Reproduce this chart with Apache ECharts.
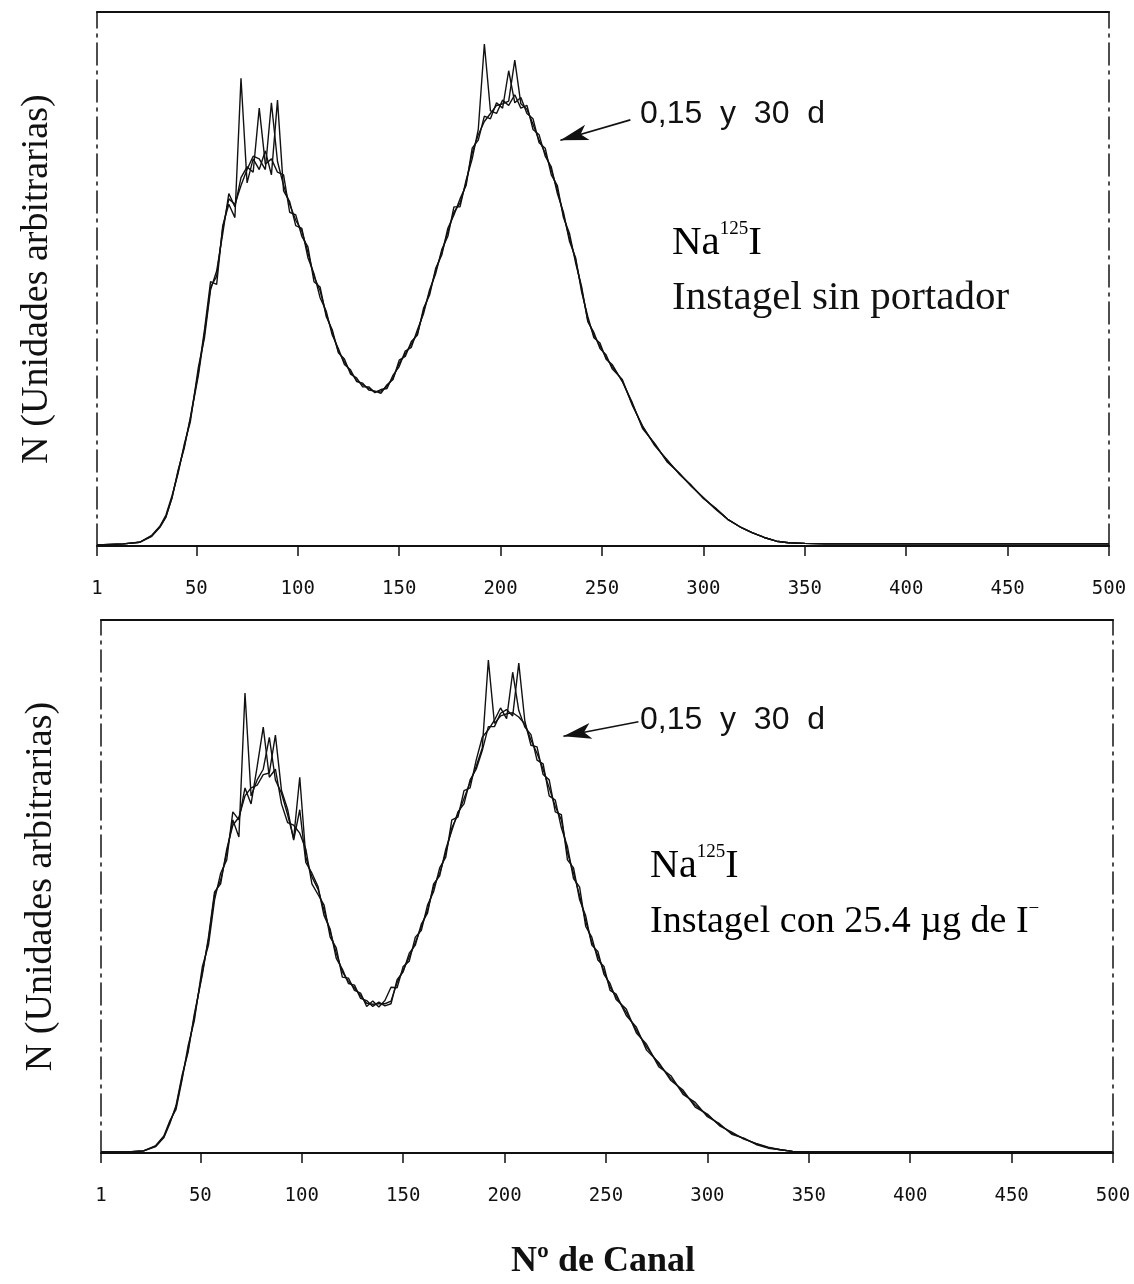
<!DOCTYPE html>
<html><head><meta charset="utf-8">
<script src="https://cdn.jsdelivr.net/npm/echarts@6/dist/echarts.min.js"></script>
<style>html,body{margin:0;padding:0;background:#fff}#c{width:1134px;height:1284px}</style>
</head><body><div id="c"></div>
<script>
// Channel grid (Nº de Canal)
const channels = [
  1, 14, 22, 28, 32, 35, 38, 41, 44, 47,
  51, 54, 57, 60, 63, 66, 69, 72, 75, 78,
  81, 84, 87, 90, 93, 96, 99, 102, 105, 108,
  111, 114, 117, 120, 123, 126, 129, 132, 135, 138,
  141, 144, 147, 150, 153, 156, 159, 162, 165, 168,
  171, 174, 177, 180, 183, 186, 189, 192, 195, 198,
  201, 204, 207, 210, 213, 216, 219, 222, 225, 228,
  231, 234, 237, 240, 243, 246, 249, 252, 255, 260,
  265, 270, 276, 282, 288, 294, 300, 306, 312, 318,
  324, 330, 336, 342, 350, 360, 380, 420, 460, 500
];
const tickValues = [1, 50, 100, 150, 200, 250, 300, 350, 400, 450, 500];

// Upper panel: Na125I, Instagel sin portador (0, 15 and 30 days)
const topDay0 = [
  0.2, 0.4, 0.7, 1.9, 3.6, 5.5, 9.0, 14.2, 18.3, 24.0,
  32.5, 40.5, 49.5, 49.0, 60.0, 64.0, 61.5, 87.6, 68.0, 72.5,
  70.5, 74.0, 69.5, 83.5, 66.5, 64.5, 60.0, 59.5, 54.0, 51.0,
  46.5, 44.0, 39.5, 37.0, 34.0, 33.0, 30.8, 30.5, 29.2, 29.0,
  28.6, 30.2, 31.2, 34.8, 35.5, 38.3, 39.5, 44.5, 47.0, 52.0,
  54.5, 59.5, 62.0, 65.0, 67.5, 74.5, 76.0, 80.5, 80.0, 83.0,
  82.0, 89.0, 83.0, 84.0, 81.0, 80.0, 75.5, 74.5, 69.5, 67.5,
  61.5, 58.5, 53.0, 48.5, 42.0, 40.0, 37.0, 35.8, 33.2, 31.2,
  26.3, 22.5, 18.8, 16.2, 13.5, 11.4, 8.9, 7.1, 5.0, 3.6,
  2.5, 1.6, 0.9, 0.6, 0.5, 0.4, 0.4, 0.4, 0.4, 0.4
];
const topDay15 = [
  0.2, 0.4, 0.7, 2.0, 3.7, 5.8, 9.4, 13.6, 19.0, 23.2,
  33.5, 39.0, 48.0, 51.5, 58.5, 66.0, 63.5, 69.0, 71.0, 70.0,
  82.0, 71.5, 72.5, 70.0, 69.5, 62.5, 62.0, 58.0, 56.0, 49.5,
  48.5, 43.0, 40.5, 36.2, 35.0, 32.2, 31.5, 29.8, 29.8, 28.7,
  29.3, 29.5, 32.0, 33.6, 36.5, 37.2, 40.5, 43.5, 48.0, 51.0,
  55.5, 58.0, 63.5, 63.5, 68.5, 72.5, 78.0, 94.0, 81.5, 81.0,
  83.5, 82.5, 84.5, 82.0, 82.5, 78.0, 77.0, 73.0, 71.0, 66.0,
  62.5, 57.0, 54.0, 47.5, 43.0, 39.0, 38.0, 35.0, 34.0, 30.8,
  26.8, 22.0, 19.2, 15.8, 13.7, 11.2, 9.1, 6.9, 5.0, 3.6,
  2.5, 1.6, 0.9, 0.6, 0.5, 0.4, 0.4, 0.4, 0.4, 0.4
];
const topDay30 = [
  0.2, 0.4, 0.7, 1.8, 3.5, 5.4, 9.1, 14.0, 18.6, 23.8,
  32.0, 39.8, 48.5, 50.5, 59.5, 65.0, 64.0, 67.5, 70.5, 73.0,
  72.5, 70.5, 83.0, 72.0, 67.5, 64.0, 61.0, 59.0, 55.0, 50.5,
  47.8, 43.5, 40.0, 36.5, 34.5, 32.6, 31.0, 30.2, 29.5, 28.9,
  29.0, 29.9, 31.5, 34.2, 36.0, 37.8, 39.8, 44.0, 47.5, 51.5,
  55.0, 58.8, 62.5, 64.2, 68.0, 73.6, 77.0, 79.5, 81.0, 82.5,
  82.8, 83.3, 91.0, 82.8, 81.8, 79.0, 76.0, 73.6, 70.4, 66.7,
  62.0, 57.6, 53.6, 48.0, 42.3, 39.5, 37.5, 35.3, 33.6, 31.0,
  26.5, 22.3, 19.0, 16.0, 13.6, 11.3, 9.0, 7.0, 5.0, 3.6,
  2.5, 1.6, 0.9, 0.6, 0.5, 0.4, 0.4, 0.4, 0.4, 0.4
];

// Lower panel: Na125I, Instagel con 25.4 µg de I- (0, 15 and 30 days)
const botDay0 = [
  0.2, 0.2, 0.4, 1.3, 3.0, 5.8, 8.6, 14.2, 19.5, 25.5,
  34.0, 40.0, 48.5, 51.2, 56.3, 62.5, 59.3, 86.3, 67.0, 70.0,
  72.0, 78.0, 70.0, 67.5, 63.5, 59.0, 70.5, 55.5, 51.8, 49.5,
  45.5, 41.5, 37.5, 34.0, 32.2, 31.0, 29.5, 28.1, 27.9, 28.0,
  28.0, 28.5, 32.0, 34.3, 36.8, 39.5, 42.5, 45.6, 49.9, 52.5,
  56.3, 61.0, 63.5, 66.5, 69.5, 72.5, 76.0, 92.5, 80.6, 82.0,
  82.4, 82.6, 81.8, 80.5, 77.5, 75.0, 72.0, 68.5, 65.0, 62.5,
  56.3, 52.5, 48.3, 43.5, 39.6, 37.0, 34.2, 31.1, 29.3, 26.4,
  23.0, 19.9, 16.7, 14.0, 11.4, 9.0, 7.1, 5.3, 3.7, 2.7,
  1.7, 1.0, 0.6, 0.3, 0.2, 0.2, 0.2, 0.2, 0.2, 0.2
];
const botDay15 = [
  0.2, 0.2, 0.4, 1.4, 3.2, 6.1, 8.2, 13.8, 20.2, 24.8,
  35.0, 39.0, 47.5, 52.5, 55.0, 64.0, 62.5, 68.5, 65.5, 72.5,
  79.9, 70.5, 72.0, 65.5, 62.0, 61.5, 60.0, 57.0, 50.5, 48.5,
  46.5, 40.5, 38.5, 33.0, 32.8, 30.5, 30.0, 27.5, 28.5, 27.4,
  28.6, 31.1, 31.0, 35.0, 36.0, 40.5, 41.8, 46.5, 49.0, 53.5,
  55.5, 62.5, 63.0, 68.0, 68.5, 73.7, 78.0, 79.4, 81.2, 83.5,
  81.5, 90.2, 83.0, 79.9, 78.5, 73.7, 73.0, 67.0, 66.2, 61.0,
  57.5, 51.5, 49.9, 42.5, 40.5, 36.2, 35.0, 30.5, 29.8, 25.8,
  23.6, 19.3, 17.0, 13.6, 11.8, 8.6, 7.3, 5.1, 3.9, 2.6,
  1.8, 1.1, 0.6, 0.3, 0.2, 0.2, 0.2, 0.2, 0.2, 0.2
];
const botDay30 = [
  0.2, 0.2, 0.4, 1.2, 2.9, 5.6, 8.9, 14.6, 19.0, 26.0,
  33.5, 40.5, 49.0, 50.5, 57.0, 61.5, 63.0, 67.0, 68.5, 69.0,
  71.0, 71.3, 78.4, 68.0, 64.5, 58.7, 64.4, 54.5, 52.5, 50.0,
  44.5, 42.0, 36.5, 34.5, 31.8, 31.5, 29.0, 28.6, 27.5, 28.3,
  27.6, 28.0, 32.5, 34.0, 37.5, 39.0, 43.0, 45.0, 50.5, 52.0,
  57.0, 60.5, 64.0, 65.5, 70.0, 72.0, 75.5, 80.0, 80.0, 82.5,
  83.2, 82.0, 91.9, 81.0, 76.5, 76.2, 71.0, 70.0, 64.0, 63.5,
  55.0, 53.5, 47.5, 44.5, 39.0, 37.8, 33.5, 31.8, 28.8, 27.0,
  22.5, 20.4, 16.2, 14.5, 11.0, 9.5, 6.8, 5.5, 3.5, 2.8,
  1.6, 0.9, 0.6, 0.3, 0.2, 0.2, 0.2, 0.2, 0.2, 0.2
];

// Arrow annotations [channel, N]
const topArrow = [[264, 79.8], [229.5, 76.0]];
const botArrow = [[266, 80.9], [229, 78.2]];

const INK = '#111';
const SERIF = '"Liberation Serif", "DejaVu Serif", serif';
const MONO = '"DejaVu Sans Mono", monospace';
const SANS = '"Liberation Sans", Arial, sans-serif';

function pairs(arr) { return channels.map((c, i) => [c, arr[i]]); }

function xAxes(grid) {
  return [
    {
      gridIndex: grid, type: 'value', min: 1, max: 500, position: 'bottom',
      axisLine: { show: true, onZero: false, lineStyle: { color: INK, width: 2 } },
      axisTick: { show: true, customValues: tickValues, length: 10, lineStyle: { color: INK, width: 1.5 } },
      axisLabel: { customValues: tickValues, margin: 34, fontFamily: MONO, fontSize: 19, color: INK },
      splitLine: { show: false }
    },
    {
      gridIndex: grid, type: 'value', min: 1, max: 500, position: 'top',
      axisLine: { show: true, onZero: false, lineStyle: { color: INK, width: 2 } },
      axisTick: { show: false }, axisLabel: { show: false }, splitLine: { show: false }
    }
  ];
}
function yAxes(grid) {
  const dash = { color: '#222', width: 1.6, type: [22, 6, 3, 6] };
  return [
    {
      gridIndex: grid, type: 'value', min: 0, max: 100, position: 'left',
      axisLine: { show: true, onZero: false, lineStyle: dash },
      axisTick: { show: false }, axisLabel: { show: false }, splitLine: { show: false },
      name: 'N (Unidades arbitrarias)', nameLocation: 'middle', nameRotate: 90, nameGap: 41,
      nameTextStyle: { fontFamily: SERIF, fontSize: 38, color: INK }
    },
    {
      gridIndex: grid, type: 'value', min: 0, max: 100, position: 'right',
      axisLine: { show: true, onZero: false, lineStyle: dash },
      axisTick: { show: false }, axisLabel: { show: false }, splitLine: { show: false }
    }
  ];
}
function spec(name, arr, xi, yi, arrow) {
  const s = {
    name: name, type: 'line', xAxisIndex: xi, yAxisIndex: yi,
    data: pairs(arr), showSymbol: false, symbol: 'none',
    lineStyle: { color: INK, width: 1.4 }, itemStyle: { color: INK }, silent: true
  };
  if (arrow) {
    s.markLine = {
      silent: true, symbol: ['none', 'arrow'], symbolSize: [12, 28],
      label: { show: false },
      lineStyle: { color: INK, width: 1.6, type: 'solid' },
      itemStyle: { color: '#666', borderColor: INK, borderWidth: 1 },
      data: [[{ coord: arrow[0] }, { coord: arrow[1] }]]
    };
  }
  return s;
}

const supRich = (size) => ({
  n: { fontFamily: SERIF, fontSize: size, lineHeight: size + 6, color: INK },
  s: { fontFamily: SERIF, fontSize: 19, lineHeight: 21, verticalAlign: 'top', color: INK }
});

const chart = echarts.init(document.getElementById('c'), null, { renderer: 'canvas' });
chart.setOption({
  animation: false,
  backgroundColor: '#fff',
  grid: [
    { left: 97, right: 25, top: 12, height: 534 },
    { left: 101, right: 21, top: 620, height: 533 }
  ],
  xAxis: xAxes(0).concat(xAxes(1)),
  yAxis: yAxes(0).concat(yAxes(1)),
  series: [
    spec('0 d', topDay0, 0, 0, topArrow),
    spec('15 d', topDay15, 0, 0),
    spec('30 d', topDay30, 0, 0),
    spec('0 d', botDay0, 2, 2, botArrow),
    spec('15 d', botDay15, 2, 2),
    spec('30 d', botDay30, 2, 2)
  ],
  graphic: [
    { type: 'text', x: 640, y: 114, style: { text: '0,15  y  30  d', fontFamily: SANS, fontSize: 32, fill: INK, verticalAlign: 'middle' } },
    { type: 'text', x: 672, y: 243, style: { text: '{n|Na}{s|125}{n|I}', verticalAlign: 'middle', rich: supRich(41) } },
    { type: 'text', x: 672, y: 298, style: { text: 'Instagel sin portador', fontFamily: SERIF, fontSize: 41, fill: INK, verticalAlign: 'middle' } },

    { type: 'text', x: 640, y: 720, style: { text: '0,15  y  30  d', fontFamily: SANS, fontSize: 32, fill: INK, verticalAlign: 'middle' } },
    { type: 'text', x: 650, y: 866, style: { text: '{n|Na}{s|125}{n|I}', verticalAlign: 'middle', rich: supRich(40) } },
    { type: 'text', x: 650, y: 922, style: { text: '{n|Instagel con 25.4 µg de I}{s|−}', verticalAlign: 'middle', rich: supRich(38) } },

    { type: 'text', x: 603, y: 1262, style: { text: 'Nº de Canal', fontFamily: SERIF, fontWeight: 'bold', fontSize: 36, fill: INK, align: 'center', verticalAlign: 'middle' } }
  ]
});
</script>
</body></html>
